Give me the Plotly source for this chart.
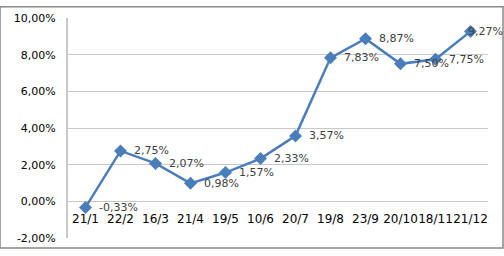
import plotly.graph_objects as go

categories = ["21/1", "22/2", "16/3", "21/4", "19/5", "10/6", "20/7", "19/8", "23/9", "20/10", "18/11", "21/12"]
values = [-0.33, 2.75, 2.07, 0.98, 1.57, 2.33, 3.57, 7.83, 8.87, 7.50, 7.75, 9.27]
y_ticks = [-2, 0, 2, 4, 6, 8, 10]

def pct(v):
    return f"{v:.2f}".replace(".", ",") + "%"

labels = [pct(v) for v in values]
tick_text = [pct(v) for v in y_ticks]

fig = go.Figure()
fig.add_trace(go.Scatter(
    x=categories, y=values,
    mode="lines+markers",
    line=dict(color="#4a7ebb", width=2.5),
    marker=dict(symbol="diamond", size=10, color="#4a7ebb"),
    cliponaxis=False,
    showlegend=False,
))

annotations = []
for i, (c, v, t) in enumerate(zip(categories, values, labels)):
    last = i == len(categories) - 1
    annotations.append(dict(
        x=c, y=v, xref="x", yref="y", text=t, showarrow=False,
        xanchor="left", yanchor="middle",
        xshift=-5 if last else 11,
        font=dict(family="DejaVu Sans", size=11, color="#404040"),
    ))

W, H = 504, 256
top, bottom = 12.3, 244.4
fig.update_layout(
    width=W, height=H,
    margin=dict(l=68, r=16, t=top, b=H - bottom),
    paper_bgcolor="white", plot_bgcolor="white",
    annotations=annotations,
    xaxis=dict(
        type="category",
        anchor="free", position=2 / 12,
        showgrid=False, showline=False, ticks="",
        tickangle=0,
        ticklabelstandoff=9,
        tickfont=dict(family="DejaVu Sans", size=12, color="black"),
        range=[-0.5, 11.5],
    ),
    yaxis=dict(
        range=[-2, 10],
        tickvals=y_ticks, ticktext=tick_text,
        showgrid=True, gridcolor="#c8c8c8", gridwidth=1,
        showline=True, linecolor="#c8c8c8", linewidth=2,
        zeroline=False, ticks="",
        ticklabelstandoff=8,
        tickfont=dict(family="DejaVu Sans", size=11, color="black"),
    ),
    shapes=[dict(type="rect", xref="paper", yref="paper",
                 x0=-68 / (W - 84), x1=(W - 68 - 1) / (W - 84),
                 y0=-(H - bottom - 1) / (bottom - top), y1=1 + (top - 0.5) / (bottom - top),
                 line=dict(color="#888888", width=1.5), layer="below")],
)
fig.write_html("out.html")
